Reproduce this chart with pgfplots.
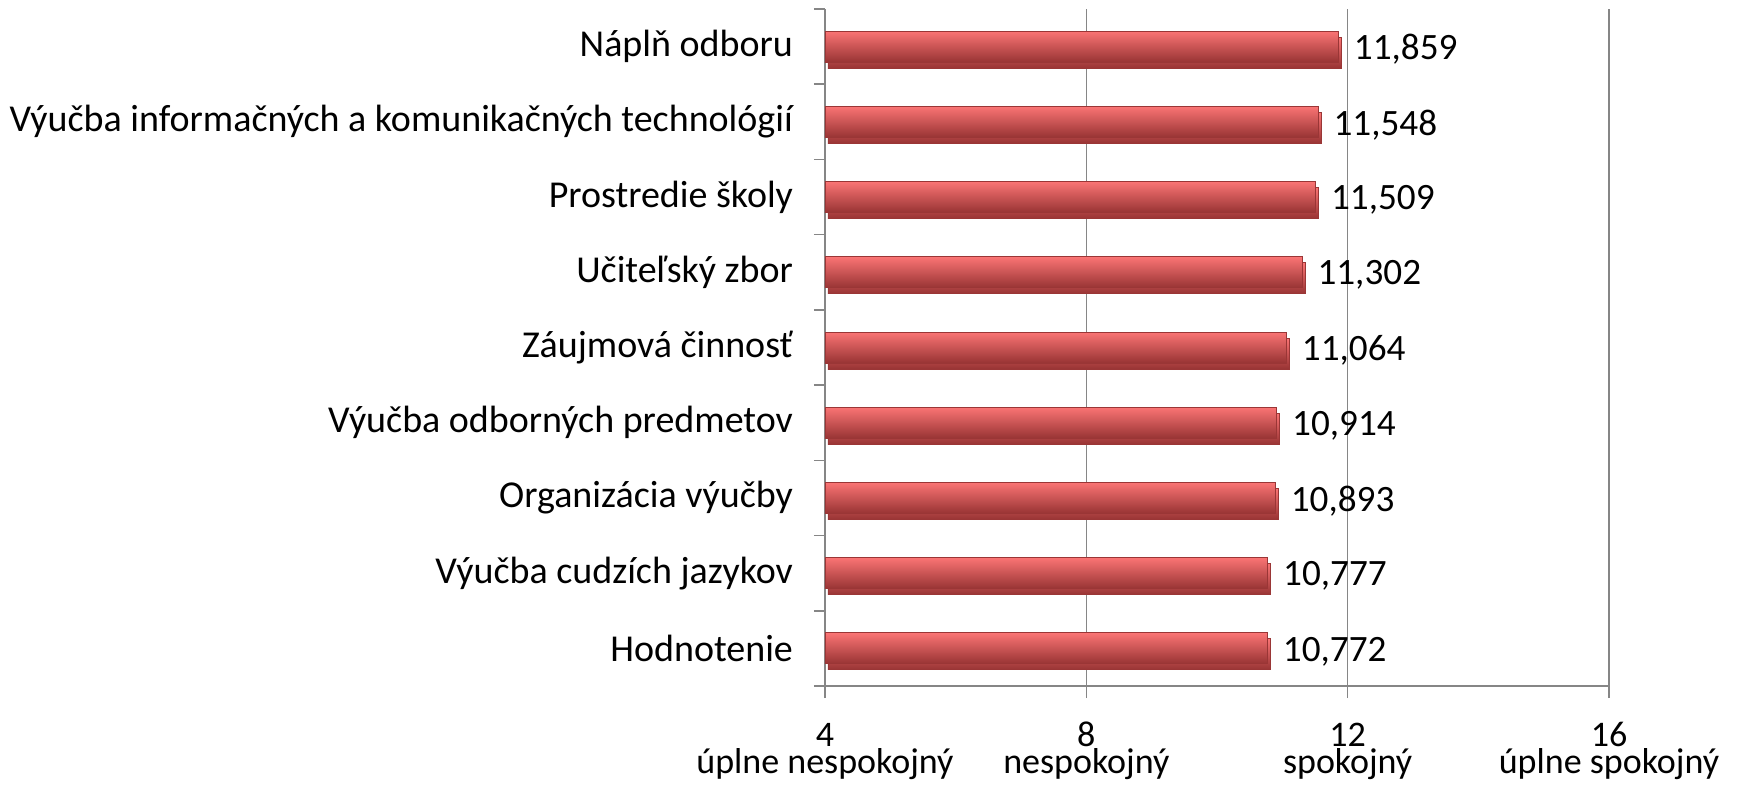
\documentclass[border=0pt]{standalone}
\usepackage{pgfplots}
\pgfplotsset{compat=1.18}
\usepackage{fontspec}
\setmainfont{Carlito}
\definecolor{bartop}{HTML}{FA7474}
\definecolor{barmid}{HTML}{CC4444}
\definecolor{barbot}{HTML}{983434}
\definecolor{bardraw}{HTML}{9A3636}
\definecolor{axgray}{HTML}{868686}
\begin{document}
\begin{tikzpicture}
\pgfplotsset{
  mybar/.style={
    draw=bardraw, line width=0.4pt, bar shift=0pt,
    top color=bartop, middle color=barmid, bottom color=barbot,
    preaction={fill=black!17, transform canvas={xshift=1.5pt, yshift=-3pt}},
  },
}
\begin{axis}[
  at={(0,0)}, anchor=south west,
  scale only axis,
  width=392pt, height=338.5pt,
  xmin=4, xmax=16,
  ymin=0.5, ymax=9.5,
  y dir=reverse,
  axis lines*=left,
  axis line style={axgray, line width=0.8pt},
  xtick={4,8,12,16},
  xticklabels={4,8,12,16},
  xticklabel style={anchor=base, font=\fontsize{18}{18}\selectfont, yshift=-24.2pt},
  extra x ticks={4,8,12,16},
  extra x tick labels={úplne nespokojný,nespokojný,spokojný,úplne spokojný},
  extra x tick style={major tick length=0pt, grid=none,
    xticklabel style={yshift=-19.5pt}},
  ytick={1,...,9},
  yticklabels={Náplň odboru,Výučba informačných a komunikačných technológií,Prostredie školy,Učiteľský zbor,Záujmová činnosť,Výučba odborných predmetov,Organizácia výučby,Výučba cudzích jazykov,Hodnotenie},
  yticklabel style={font=\fontsize{19}{19}\selectfont, xshift=-6.5pt},
  minor ytick={0.5,1.5,...,9.5},
  tick align=outside,
  major x tick style={axgray, line width=0.8pt},
  major y tick style={draw=none},
  minor y tick style={axgray, line width=0.8pt},
  major tick length=6pt, minor tick length=5.5pt,
  xmajorgrids,
  grid style={axgray, line width=0.8pt},
  /pgf/number format/assume math mode=true,
  xbar, bar width=15.5pt,
  nodes near coords={\pgfmathprintnumber[fixed,precision=3,fixed zerofill,use comma]{\pgfplotspointmeta}},
  every node near coord/.append style={font=\fontsize{18.6}{18.6}\selectfont, anchor=west, xshift=4.2pt, yshift=-1.5pt, text=black},
  clip=false,
]
\addplot[mybar] coordinates {(11.859,1)};
\addplot[mybar] coordinates {(11.548,2)};
\addplot[mybar] coordinates {(11.509,3)};
\addplot[mybar] coordinates {(11.302,4)};
\addplot[mybar] coordinates {(11.064,5)};
\addplot[mybar] coordinates {(10.914,6)};
\addplot[mybar] coordinates {(10.893,7)};
\addplot[mybar] coordinates {(10.777,8)};
\addplot[mybar] coordinates {(10.772,9)};
\end{axis}
\pgfresetboundingbox
\path (-412.5pt,-52pt) rectangle (465pt,343pt);
\end{tikzpicture}
\end{document}
